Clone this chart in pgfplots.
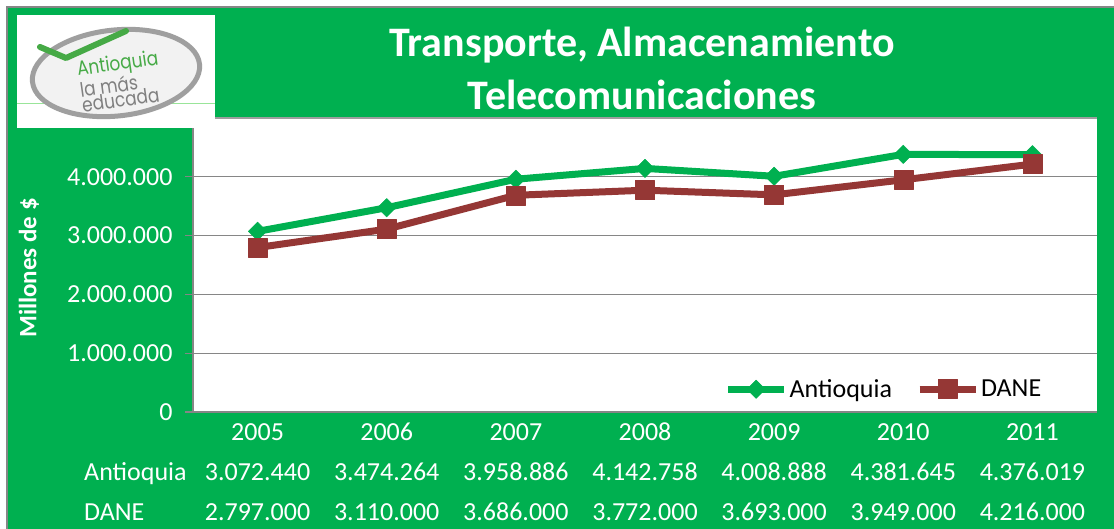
\documentclass[border=0pt]{standalone}
\usepackage{fontspec}
\setmainfont{Carlito}
\newfontfamily\logofont{Poppins}
\usepackage{pgfplots}
\pgfplotsset{compat=1.18}
\definecolor{exgreen}{RGB}{0,176,80}
\definecolor{exred}{RGB}{149,55,53}
\definecolor{gridgray}{RGB}{134,134,134}
\definecolor{logogreen}{RGB}{70,170,70}
\newcommand\ylab[1]{\mbox{\fontsize{26}{31}\selectfont #1}}
\newcommand\xlab[3]{\rule{0pt}{20pt}#1\\#2\\#3}
\begin{document}
\begin{tikzpicture}[x=1pt,y=1pt]
\useasboundingbox (0,0) rectangle (1114,-529);
\fill[white] (0,0) rectangle (1114,-529);
\fill[exgreen] (7,-7) rectangle (1114,-529);
\draw[gridgray, line width=1.5pt] (7,-529) -- (7,-7) -- (1114,-7);
\begin{axis}[
  at={(193pt,-118pt)}, anchor=north west,
  scale only axis, width=904pt, height=294pt,
  xmin=-0.5, xmax=6.5, ymin=0, ymax=5000000,
  axis background/.style={fill=white},
  axis x line*=bottom, axis y line*=left,
  axis line style={gridgray, line width=1.2pt, -},
  ytick={0,1000000,2000000,3000000,4000000},
  yticklabels={\ylab{0},\ylab{1.000.000},\ylab{2.000.000},\ylab{3.000.000},\ylab{4.000.000}},
  extra y ticks={5000000}, extra y tick labels={},
  extra y tick style={grid style={gray!40, line width=1.2pt}, major tick length=0pt},
  ymajorgrids, grid style={gridgray, line width=1.2pt},
  tick align=outside, major tick length=8pt,
  ytick style={gridgray, line width=1.2pt},
  xtick={0,...,6}, xtick style={draw=none},
  xticklabels={{\xlab{2005}{3.072.440}{2.797.000}},{\xlab{2006}{3.474.264}{3.110.000}},{\xlab{2007}{3.958.886}{3.686.000}},{\xlab{2008}{4.142.758}{3.772.000}},{\xlab{2009}{4.008.888}{3.693.000}},{\xlab{2010}{4.381.645}{3.949.000}},{\xlab{2011}{4.376.019}{4.216.000}}},
  xticklabel style={align=center, text=white, font=\fontsize{26}{40}\selectfont, yshift=3pt},
  yticklabel style={text=white, font=\fontsize{26}{31}\selectfont, xshift=-9pt},
  scaled y ticks=false,
  /pgf/number format/assume math mode=true,
  clip=false,
  legend style={at={(0.944,0.03)}, anchor=south east, draw=none, fill=none,
    font=\fontsize{26}{31}\selectfont, text=black,
    /tikz/every even column/.append style={column sep=22pt}},
  legend columns=2,
  legend image code/.code={\draw[mark repeat=2, mark phase=2, #1] plot coordinates {(0pt,0pt) (28pt,0pt) (56pt,0pt)};},
]
\addplot[exgreen, line width=7pt, line join=round, mark=square*, mark size=6.5pt,
  mark options={rotate=45, line width=0.5pt, solid}]
  coordinates {(0,3072440) (1,3474264) (2,3958886) (3,4142758) (4,4008888) (5,4381645) (6,4376019)};
\addlegendentry{Antioquia}
\addplot[exred, line width=7pt, line join=round, mark=square*, mark size=9.5pt,
  mark options={line width=0.5pt, solid}]
  coordinates {(0,2797000) (1,3110000) (2,3686000) (3,3772000) (4,3693000) (5,3949000) (6,4216000)};
\addlegendentry{DANE}
\end{axis}
% title band edge
\draw[gridgray!80, line width=1.5pt] (215,-118) -- (1097,-118);
% logo box
\fill[white] (17,-15) rectangle (215,-128);
\draw[gray!40!green!50, line width=1pt] (17,-104) -- (215,-104);
\fill[gray!10, rotate around={6:(116,-73)}] (116,-73) ellipse [x radius=84, y radius=43];
\draw[gray!75, line width=5pt, rotate around={6:(116,-73)}] (116,-73) ellipse [x radius=84, y radius=43];
\draw[logogreen, line width=6pt, line join=round, line cap=round] (40,-47) -- (66,-58) -- (126,-31);
\node[rotate=8, xscale=0.85, transform shape, font=\logofont\fontsize{20}{15}\selectfont, align=left, inner sep=0pt] at (120,-81)
  {\textcolor{logogreen}{Antioquia}\\\textcolor{gray}{la más}\\\textcolor{gray}{educada}};
% title
\node[text=white, font=\fontsize{42}{53}\selectfont\bfseries, align=center] at (642,-68)
  {Transporte, Almacenamiento\\Telecomunicaciones};
% y label
\node[rotate=90, text=white, font=\fontsize{25}{30}\selectfont\bfseries] at (29,-268) {Millones de \$};
% data table row labels
\node[anchor=base west, text=white, font=\fontsize{26}{31}\selectfont, inner sep=0pt] at (84,-480) {Antioquia};
\node[anchor=base west, text=white, font=\fontsize{26}{31}\selectfont, inner sep=0pt] at (84,-520) {DANE};
\end{tikzpicture}
\end{document}
